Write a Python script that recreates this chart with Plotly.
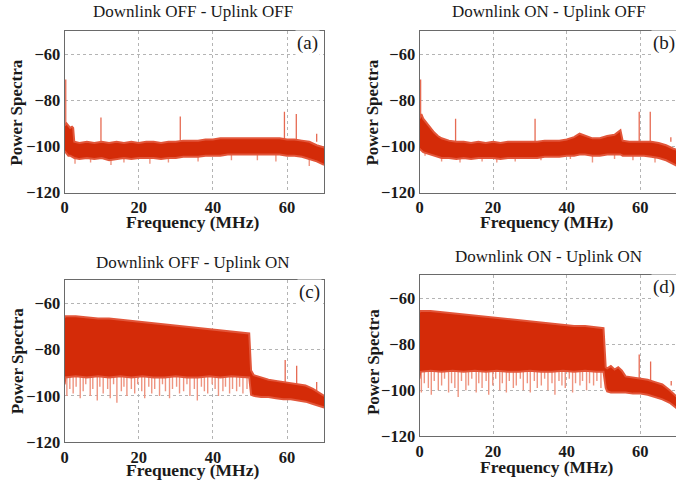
import plotly.graph_objects as go

W, H = 676, 483
H_EFF = 474  # effective vertical extent observed in the rendered page

# ---------------- data ----------------
titles = ["Downlink OFF - Uplink OFF", "Downlink ON - Uplink OFF",
          "Downlink OFF - Uplink ON", "Downlink ON - Uplink ON"]
panel_tags = ["(a)", "(b)", "(c)", "(d)"]
x_ticks = [0, 20, 40, 60]
y_ticks = [-120, -100, -80, -60]

# Panel (a)
freq_a = [0, 0.5, 1, 1.5, 2, 2.3, 2.6, 4, 6, 8, 10, 12, 14, 16, 18, 20, 22, 24, 26, 28, 30,
          32, 34, 36, 38, 40, 42, 44, 46, 48, 50, 52, 54, 56, 58, 60, 62, 64, 66, 68, 70]
upper_a = [-91, -90, -91, -92, -91.5, -92, -98, -98.5, -98, -98.5, -98, -98.5, -98, -98.5, -98, -98.5,
           -98, -98, -98.5, -98, -98, -97.5, -97.5, -97.5, -97, -97, -96.5, -96.5, -96.5, -96.5, -96.5,
           -96.5, -96.5, -96.5, -96.5, -97, -97, -97.5, -98, -99.5, -100.5]
lower_a = [-102, -103, -104, -104, -104.5, -104.5, -105, -105.5, -105, -105.5, -105, -106, -105.5, -105, -105.5,
           -105, -105, -105, -105.5, -105, -105, -104.5, -104.5, -104.5, -104, -104, -104, -103.5, -103.5, -103.5,
           -103.5, -103.5, -103.5, -103.5, -103.5, -104, -104, -104.5, -105.5, -106.5, -108]
dip_f_a = [2.8, 7, 12.5, 16, 23, 28, 36, 45, 52, 57, 66]
dip_p_a = [-107.5, -107, -108, -107, -107.5, -107, -106.5, -106, -106, -106.5, -108.5]
spike_f_a = [0.3, 9.8, 31.2, 59.3, 62.5, 68.0]
spike_p_a = [-71, -87.5, -87, -85, -86, -94.5]

# Panel (b)
freq_b = [0, 0.5, 1, 2, 3, 4, 5, 6, 8, 10, 12, 14, 16, 18, 20, 22, 24, 26, 28, 30, 32, 34, 36, 38,
          40, 42, 43.5, 45, 47, 49, 51, 53, 54.6, 55.2, 57, 59, 61, 63, 65, 67, 69, 70]
upper_b = [-88, -86, -88, -90, -92.5, -94, -95.5, -96.5, -97.5, -98, -98, -98.5, -98, -98.5, -98, -98.5,
           -98, -98, -98, -98, -98, -97.5, -97.5, -97.5, -97, -96, -94.5, -95.5, -96.5, -96.5, -95.5, -95,
           -93, -97.5, -98, -98, -98, -98, -98.5, -99.5, -101, -101.5]
lower_b = [-101, -102, -102.5, -103, -103.5, -104, -104.5, -105, -105, -105.5, -105, -105.5, -105, -105,
           -105, -105.5, -105, -105, -105, -105, -105, -104.5, -104.5, -104.5, -104, -104, -103.5, -103.5,
           -104, -104, -103.5, -103.5, -103.5, -104, -104, -104, -104, -104.5, -105, -106, -107.5, -108.5]
dip_f_b = [1.5, 6, 11, 17, 21, 26, 33, 41, 47, 53, 58, 64]
dip_p_b = [-104, -106.5, -107, -106.5, -107, -106.5, -106, -105.5, -107, -105.5, -106, -107]
spike_f_b = [0.3, 9.8, 31.4, 59.7, 62.7, 68.3]
spike_p_b = [-71, -88, -88, -85, -85, -96]

# Panel (c)
freq_c = [0, 0.2, 3, 6, 9, 12, 15, 18, 21, 24, 27, 30, 33, 36, 39, 42, 45, 48, 49.8, 50.3, 51,
          53, 55, 57, 59, 61, 63, 65, 67, 69, 70]
upper_c = [-66, -65.5, -65.5, -66, -66.5, -66.5, -67, -67.5, -68, -68.5, -69, -69.5, -70, -70.5, -71,
           -71.5, -72, -72.5, -73, -89, -91, -92, -93, -93.5, -94, -94.5, -95, -95.5, -97, -99, -100]
lower_c = [-95, -92, -91.5, -92, -91.5, -92, -91.5, -92, -91.5, -92, -92, -91.5, -92, -92, -91.5, -92,
           -91.5, -92, -92, -99.5, -100, -100.5, -100.5, -101, -101.5, -101.5, -102, -102.5, -103.5, -104.5, -105]
dip_f_c = [0.6, 1.4, 2.3, 3.1, 4.2, 5.0, 5.7, 6.9, 7.6, 8.8, 9.5, 10.4, 11.6, 12.3, 13.2, 14.1, 15.3,
           16.0, 16.8, 18.0, 18.9, 19.7, 20.8, 21.6, 22.7, 23.5, 24.3, 25.6, 26.4, 27.2, 28.3, 29.1,
           30.2, 31.0, 32.1, 33.0, 33.8, 35.0, 35.8, 36.9, 37.7, 38.6, 39.8, 40.6, 41.5, 42.7, 43.4,
           44.5, 45.3, 46.4, 47.2, 48.1, 49.2]
dip_p_c = [-100, -97, -99, -96, -101, -98, -95, -100, -97, -102, -96, -99, -97, -101, -95, -103, -98,
           -96, -100, -97, -99, -95, -98, -101, -96, -99, -97, -100, -95, -98, -101, -97, -96, -99,
           -98, -95, -100, -97, -102, -96, -98, -99, -95, -97, -100, -98, -96, -99, -97, -98, -96,
           -99, -97]
spike_f_c = [59.5, 62.6, 68.0]
spike_p_c = [-84.5, -87, -94]

# Panel (d)
freq_d = [0, 0.2, 3, 6, 9, 12, 15, 18, 21, 24, 27, 30, 33, 36, 39, 42, 45, 48, 50.0, 50.6, 51,
          52, 53, 54, 55, 56, 58, 60, 62, 64, 66, 68, 70]
upper_d = [-66, -65.5, -65.5, -66, -66.5, -67, -67.5, -68, -68.5, -69, -69.5, -70, -70.5, -71, -71.5,
           -72, -72, -72.5, -73, -90, -90.5, -89.5, -91, -90, -91.5, -94, -94.5, -95, -95.5, -96.5, -97.5,
           -100, -103]
lower_d = [-95, -92, -91.5, -92, -91.5, -92, -91.5, -92, -91.5, -92, -92, -91.5, -92, -92, -91.5, -92,
           -91.5, -92, -92, -99, -100.5, -101, -101, -101, -101, -101, -101.5, -101.5, -102, -103, -104,
           -105.5, -108]
dip_f_d = [0.5, 1.3, 2.4, 3.2, 4.0, 5.1, 6.0, 6.8, 7.9, 8.7, 9.6, 10.5, 11.4, 12.6, 13.3, 14.2, 15.4,
           16.1, 17.0, 18.1, 18.8, 19.9, 20.7, 21.8, 22.5, 23.6, 24.4, 25.5, 26.3, 27.4, 28.2, 29.3,
           30.1, 31.2, 32.0, 33.1, 34.0, 34.9, 36.0, 36.8, 37.9, 38.7, 39.6, 40.7, 41.6, 42.4, 43.6,
           44.3, 45.4, 46.2, 47.3, 48.2, 49.3]
dip_p_d = [-101, -97, -99, -102, -96, -100, -98, -95, -101, -97, -99, -103, -96, -100, -98, -95, -101,
           -97, -99, -96, -102, -98, -95, -100, -97, -101, -96, -99, -98, -95, -100, -97, -101, -96,
           -99, -98, -95, -100, -97, -102, -96, -98, -99, -95, -101, -97, -98, -96, -100, -97, -98,
           -96, -99]
spike_f_d = [59.7, 62.8, 68.4]
spike_p_d = [-84.5, -87.5, -96]

# ---------------- layout geometry (pixels) ----------------
boxes = [  # left, right, top, bottom
    (61, 322, 31, 193),
    (418, 676, 31, 193),
    (61, 322, 281, 443),
    (418, 676, 276, 437),
]
x_ranges = [[0, 70], [0, 69.7], [0, 70], [0, 69.7]]

CORE = "#D42B08"
EDGE = "#E2563A"
LIGHT = "#EE9480"
SPIKE = "#E66A52"
FONT = "Liberation Serif"
TXT = "#1a1a1a"

panels = [
    (freq_a, upper_a, lower_a, dip_f_a, dip_p_a, spike_f_a, spike_p_a, -102),
    (freq_b, upper_b, lower_b, dip_f_b, dip_p_b, spike_f_b, spike_p_b, -102),
    (freq_c, upper_c, lower_c, dip_f_c, dip_p_c, spike_f_c, spike_p_c, -89),
    (freq_d, upper_d, lower_d, dip_f_d, dip_p_d, spike_f_d, spike_p_d, -89),
]

fig = go.Figure()


def px(x):
    return x / W


def py(y):
    return 1 - y / H_EFF


for i, (fr, up, lo, df, dp, sf, sp, dip_top) in enumerate(panels):
    n = "" if i == 0 else str(i + 1)
    xa, ya = "x" + n, "y" + n
    xs, ys = [], []
    for f, p in zip(df, dp):
        xs += [f, f, None]
        ys += [dip_top, p, None]
    fig.add_trace(go.Scatter(x=xs, y=ys, mode="lines", line=dict(color=LIGHT, width=1.4),
                             xaxis=xa, yaxis=ya, showlegend=False, hoverinfo="skip"))
    xs, ys = [], []
    for f, p in zip(sf, sp):
        xs += [f, f, None]
        ys += [-98, p, None]
    fig.add_trace(go.Scatter(x=xs, y=ys, mode="lines", line=dict(color=SPIKE, width=1.3),
                             xaxis=xa, yaxis=ya, showlegend=False, hoverinfo="skip"))
    fig.add_trace(go.Scatter(x=fr, y=lo, mode="lines", line=dict(color=EDGE, width=2),
                             xaxis=xa, yaxis=ya, showlegend=False, hoverinfo="skip"))
    fig.add_trace(go.Scatter(x=fr, y=up, mode="lines", line=dict(color=EDGE, width=2),
                             fill="tonexty", fillcolor=CORE,
                             xaxis=xa, yaxis=ya, showlegend=False, hoverinfo="skip"))

annotations = []
title_pos = [(190, 12), (548, 12), (190, 263), (548, 257)]
tag_pos = [(305, 43), (664, 43), (307, 293), (664, 288)]
xlab_pos = [(190, 222), (546, 222), (190, 471), (546, 468)]
ylab_pos = [(13, 113), (371, 113), (13, 362), (371, 363)]

for i in range(4):
    n = "" if i == 0 else str(i + 1)
    l, r, t, b = boxes[i]
    right_col = i in (1, 3)
    axis_common = dict(showline=True, linecolor="#6a6a6a", linewidth=1,
                       showgrid=True, gridcolor="#b4b4b4", griddash="dot", gridwidth=1,
                       zeroline=False, ticks="",
                       tickfont=dict(family=FONT, size=16.5, color=TXT, weight="bold"))
    fig.layout["xaxis" + n] = dict(domain=[px(l), px(r)], range=x_ranges[i], tickvals=x_ticks,
                                   anchor="y" + n, mirror=True, **axis_common)
    fig.layout["yaxis" + n] = dict(domain=[py(b), py(t)], range=[-120, -50], tickvals=y_ticks,
                                   anchor="x" + n, mirror=not right_col, **axis_common)
    annotations.append(dict(text=titles[i], x=px(title_pos[i][0]), y=py(title_pos[i][1]),
                            xref="paper", yref="paper", showarrow=False, xanchor="center",
                            yanchor="middle", font=dict(family=FONT, size=17, color=TXT)))
    annotations.append(dict(text=panel_tags[i], x=px(tag_pos[i][0]), y=py(tag_pos[i][1]),
                            xref="paper", yref="paper", showarrow=False, xanchor="center",
                            yanchor="middle", bgcolor="white",
                            font=dict(family=FONT, size=19, color=TXT)))
    annotations.append(dict(text="Frequency (MHz)", x=px(xlab_pos[i][0]), y=py(xlab_pos[i][1]),
                            xref="paper", yref="paper", showarrow=False, xanchor="center",
                            yanchor="middle",
                            font=dict(family=FONT, size=17.5, color=TXT, weight="bold")))
    annotations.append(dict(text="Power Spectra", x=px(ylab_pos[i][0]), y=py(ylab_pos[i][1]),
                            xref="paper", yref="paper", showarrow=False, xanchor="center",
                            yanchor="middle", textangle=-90,
                            font=dict(family=FONT, size=17, color=TXT, weight="bold")))

fig.update_layout(width=W, height=H, margin=dict(l=0, r=0, t=0, b=0),
                  paper_bgcolor="white", plot_bgcolor="white",
                  annotations=annotations, showlegend=False)

post = ("var h=document.documentElement,b=document.body;"
        "h.style.margin='0';h.style.padding='0';h.style.overflow='hidden';"
        "b.style.margin='0';b.style.padding='0';b.style.overflow='hidden';")
fig.write_html("out.html", config={"displayModeBar": False}, post_script=post)
